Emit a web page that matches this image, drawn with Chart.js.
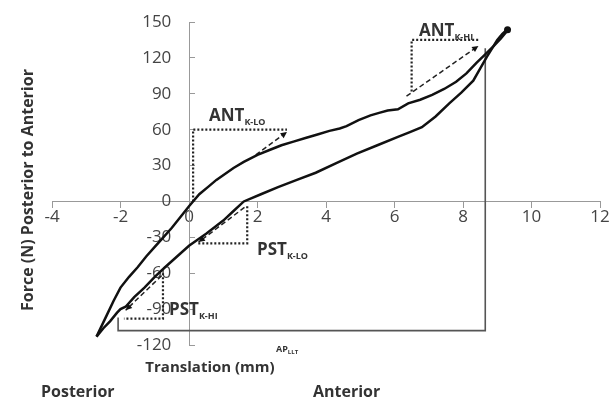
<!DOCTYPE html>
<html>
<head>
<meta charset="utf-8">
<script src="https://cdn.jsdelivr.net/npm/chart.js@4.4.1/dist/chart.umd.min.js"></script>
<style>
  body { margin: 0; background: #fff; }
  #wrap { width: 610px; height: 401px; position: relative; }
</style>
</head>
<body>
<div id="wrap"><canvas id="graficaHisteresis"></canvas></div>
<script>
// ======================
// DATOS
// ======================
const xTicks = [-4, -2, 0, 2, 4, 6, 8, 10, 12];
const yTicks = [-120, -90, -60, -30, 0, 30, 60, 90, 120, 150];

// rama superior (desde la punta posterior hasta el maximo anterior)
const upperX = [-2.7, -2.55, -2.4, -2.2, -2.0, -1.75, -1.5, -1.25, -1.0, -0.75, -0.5, -0.25, 0, 0.3, 0.55, 0.8, 1.05, 1.3, 1.6, 2.0, 2.35, 2.7, 3.05, 3.4, 3.75, 4.1, 4.4, 4.6, 4.95, 5.3, 5.55, 5.8, 6.1, 6.4, 6.75, 7.1, 7.45, 7.8, 8.1, 8.4, 8.65, 8.9, 9.1, 9.3];
const upperY = [-113, -104, -95, -83, -72, -63, -55, -46, -38, -30, -22, -13, -4, 6, 12, 18, 23, 28, 33, 39, 43, 47, 50, 53, 56, 59, 61, 63, 68, 72, 74, 76, 77, 82, 85, 89, 94, 100, 107, 116, 123, 130, 136, 143];

// rama inferior (desde el maximo anterior de regreso a la punta)
const lowerX = [9.3, 9.15, 9.0, 8.85, 8.7, 8.5, 8.3, 7.95, 7.6, 7.2, 6.8, 6.45, 6.1, 5.5, 4.9, 4.3, 3.7, 3.15, 2.6, 2.1, 1.6, 1.3, 1.0, 0.5, 0, -0.35, -0.7, -1.0, -1.3, -1.6, -1.85, -2.0, -2.1, -2.3, -2.5, -2.7];
const lowerY = [144, 140, 135, 128, 121, 111, 101, 91, 82, 71, 62, 58, 54, 47, 40, 32, 24, 18, 12, 6, 0, -8, -16, -27, -37, -46, -55, -63, -72, -80, -88, -90, -93, -100, -106, -113];

// marcas de rigidez (cajas punteadas y flechas)
const antLoBoxX = [0.12, 0.12, 2.86];
const antLoBoxY = [0, 60, 60];
const antLoArrowX = [1.95, 2.86];
const antLoArrowY = [39, 58];

const antHiBoxX = [6.5, 6.5, 8.5];
const antHiBoxY = [92, 135, 135];
const antHiArrowX = [6.35, 8.45];
const antHiArrowY = [88, 130];

const pstLoBoxX = [1.7, 1.7, 0.25];
const pstLoBoxY = [-4, -35, -35];
const pstLoArrowX = [1.62, 0.28];
const pstLoArrowY = [-5, -34];

const pstHiBoxX = [-0.76, -0.76, -1.9];
const pstHiBoxY = [-60, -98, -98];
const pstHiArrowX = [-0.8, -1.85];
const pstHiArrowY = [-62, -91];

// corchete AP LLT
const apBracketX = [-2.07, -2.07, 8.65, 8.65];
const apBracketY = [-97, -108, -108, 128];

function puntos(xs, ys) {
    return xs.map((x, i) => ({ x: x, y: ys[i] }));
}

function linea(xs, ys, opts) {
    return Object.assign({
        data: puntos(xs, ys),
        showLine: true,
        pointRadius: 0,
        borderColor: '#111',
        borderWidth: 2.5,
        fill: false,
        tension: 0
    }, opts || {});
}

const punteado = { borderDash: [2, 2], borderWidth: 2.2, borderColor: '#222' };
const discontinuo = { borderDash: [5, 3], borderWidth: 1.5, borderColor: '#222', isArrow: true };
const FUENTE = '"Open Sans", Lato, sans-serif';

// ======================
// TEXTOS Y FLECHAS
// ======================
const extras = {
    id: 'extras',
    afterDatasetsDraw(chart) {
        const ctx = chart.ctx;
        const sx = chart.scales.x, sy = chart.scales.y;
        const px = v => sx.getPixelForValue(v);
        const py = v => sy.getPixelForValue(v);

        // puntas de flecha
        chart.data.datasets.forEach(ds => {
            if (!ds.isArrow) return;
            const a = ds.data[0], b = ds.data[1];
            const x1 = px(a.x), y1 = py(a.y), x2 = px(b.x), y2 = py(b.y);
            const ang = Math.atan2(y2 - y1, x2 - x1);
            const s = 7;
            ctx.save();
            ctx.fillStyle = '#111';
            ctx.beginPath();
            ctx.moveTo(x2, y2);
            ctx.lineTo(x2 - s * Math.cos(ang - 0.45), y2 - s * Math.sin(ang - 0.45));
            ctx.lineTo(x2 - s * Math.cos(ang + 0.45), y2 - s * Math.sin(ang + 0.45));
            ctx.closePath();
            ctx.fill();
            ctx.restore();
        });

        // punto en el maximo
        ctx.save();
        ctx.fillStyle = '#111';
        ctx.beginPath();
        ctx.arc(px(9.3), py(143.5), 3.5, 0, Math.PI * 2);
        ctx.fill();
        ctx.restore();

        // etiqueta con subindice
        function etiqueta(base, sub, x, y, size, subSize) {
            ctx.save();
            ctx.fillStyle = '#333';
            ctx.textBaseline = 'alphabetic';
            ctx.textAlign = 'left';
            ctx.font = 'bold ' + size + 'px ' + FUENTE;
            ctx.fillText(base, x, y);
            const w = ctx.measureText(base).width;
            ctx.font = 'bold ' + subSize + 'px ' + FUENTE;
            ctx.fillText(sub, x + w, y + size * 0.22);
            ctx.restore();
        }
        etiqueta('ANT', 'K-LO', 209, 121, 17, 9);
        etiqueta('ANT', 'K-HI', 419, 36, 17, 9);
        etiqueta('PST', 'K-LO', 257, 255, 17, 9);
        etiqueta('PST', 'K-HI', 169, 315, 17, 9);
        etiqueta('AP', 'LLT', 276, 352, 9, 6);

        ctx.save();
        ctx.fillStyle = '#333';
        ctx.font = 'bold 15px ' + FUENTE;
        ctx.textAlign = 'center';
        ctx.textBaseline = 'middle';
        ctx.fillText('Translation (mm)', 210, 368);
        ctx.font = 'bold 16px ' + FUENTE;
        ctx.textAlign = 'left';
        ctx.fillText('Posterior', 41, 392);
        ctx.fillText('Anterior', 313, 392);
        ctx.translate(28, 190);
        ctx.rotate(-Math.PI / 2);
        ctx.textAlign = 'center';
        ctx.fillText('Force (N) Posterior to Anterior', 0, 0);
        ctx.restore();
    }
};

// ======================
// GRAFICA
// ======================
new Chart(document.getElementById('graficaHisteresis'), {
    type: 'scatter',
    data: {
        datasets: [
            linea(upperX, upperY),
            linea(lowerX, lowerY),
            linea(antLoBoxX, antLoBoxY, punteado),
            linea(antLoArrowX, antLoArrowY, discontinuo),
            linea(antHiBoxX, antHiBoxY, punteado),
            linea(antHiArrowX, antHiArrowY, discontinuo),
            linea(pstLoBoxX, pstLoBoxY, punteado),
            linea(pstLoArrowX, pstLoArrowY, discontinuo),
            linea(pstHiBoxX, pstHiBoxY, punteado),
            linea(pstHiArrowX, pstHiArrowY, discontinuo),
            linea(apBracketX, apBracketY, { borderColor: '#555', borderWidth: 1.6 })
        ]
    },
    options: {
        responsive: true,
        maintainAspectRatio: false,
        animation: false,
        layout: { padding: { left: 52, right: 10, top: 22, bottom: 56 } },
        plugins: {
            legend: { display: false },
            tooltip: { enabled: false }
        },
        scales: {
            x: {
                type: 'linear',
                position: { y: 0 },
                min: xTicks[0],
                max: xTicks[xTicks.length - 1],
                afterBuildTicks: axis => { axis.ticks = xTicks.map(v => ({ value: v })); },
                ticks: { color: '#444', font: { family: '"Open Sans"', size: 17 }, padding: 0, maxRotation: 0 },
                grid: { drawOnChartArea: false, tickLength: 6, color: '#999' },
                border: { color: '#999', width: 1 }
            },
            y: {
                type: 'linear',
                position: { x: 0 },
                min: yTicks[0],
                max: yTicks[yTicks.length - 1],
                afterBuildTicks: axis => { axis.ticks = yTicks.map(v => ({ value: v })); },
                // etiquetas alineadas a la derecha del eje: espacios para separarlas
                ticks: { color: '#444', font: { family: '"Open Sans"', size: 17 }, callback: v => v + '    ' },
                grid: { drawOnChartArea: false, tickLength: -6, color: '#999' },
                border: { color: '#999', width: 1 }
            }
        }
    },
    plugins: [extras]
});
</script>
</body>
</html>
